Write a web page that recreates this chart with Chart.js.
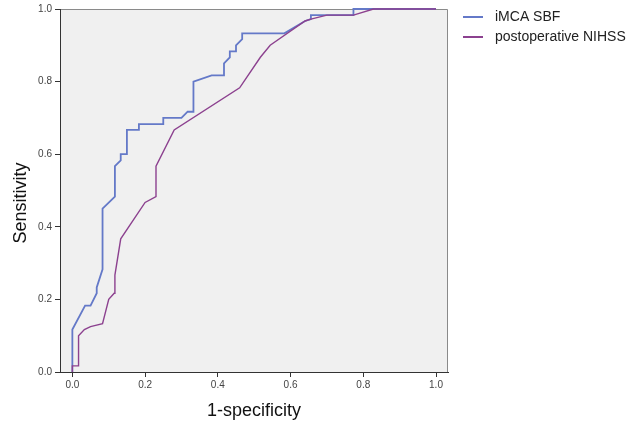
<!DOCTYPE html>
<html>
<head>
<meta charset="utf-8">
<script src="https://cdn.jsdelivr.net/npm/chart.js@4"></script>
<style>
    html, body { margin: 0; padding: 0; background: #fff; }
    #wrap { width: 633px; height: 425px; }
</style>
</head>
<body>
<div id="wrap"><canvas id="roc-chart" width="633" height="425"></canvas></div>
<script>
const seriesNames = ['iMCA SBF', 'postoperative NIHSS'];
const seriesColors = ['#6479c8', '#8c418f'];

// iMCA SBF curve (1-specificity, sensitivity)
const sbfFpr = [0, 0, 0.035, 0.05, 0.067, 0.067, 0.083, 0.083, 0.117, 0.117, 0.133, 0.133, 0.15, 0.15,
    0.183, 0.183, 0.25, 0.25, 0.3, 0.317, 0.333, 0.333, 0.383, 0.417, 0.417, 0.433, 0.433, 0.45, 0.45,
    0.467, 0.467, 0.583, 0.64, 0.656, 0.656, 0.773, 0.773, 1.0];
const sbfTpr = [0, 0.117, 0.183, 0.183, 0.217, 0.233, 0.283, 0.45, 0.483, 0.567, 0.583, 0.6, 0.6, 0.667,
    0.667, 0.683, 0.683, 0.7, 0.7, 0.717, 0.717, 0.8, 0.817, 0.817, 0.85, 0.867, 0.883, 0.883, 0.9,
    0.917, 0.933, 0.933, 0.967, 0.972, 0.983, 0.983, 1.0, 1.0];

// postoperative NIHSS curve
const nihssFpr = [0, 0, 0.017, 0.017, 0.033, 0.05, 0.083, 0.1, 0.115, 0.117, 0.133, 0.2, 0.23, 0.23,
    0.28, 0.46, 0.517, 0.544, 0.64, 0.656, 0.7, 0.773, 0.828, 1.0];
const nihssTpr = [0, 0.017, 0.017, 0.1, 0.117, 0.125, 0.133, 0.2, 0.217, 0.267, 0.367, 0.467, 0.483, 0.567,
    0.667, 0.783, 0.867, 0.9, 0.967, 0.972, 0.983, 0.983, 1.0, 1.0];

const xTicks = [0, 0.2, 0.4, 0.6, 0.8, 1.0];
const yTicks = [0, 0.2, 0.4, 0.6, 0.8, 1.0];

const FONT = '"Liberation Sans", Arial, sans-serif';

function toPoints(xs, ys) {
    return xs.map((x, i) => ({ x: x, y: ys[i] }));
}

// grey plot background with the light top/right frame
const plotFrame = {
    id: 'plotFrame',
    beforeDraw(chart) {
        const { ctx, chartArea: a } = chart;
        ctx.save();
        ctx.fillStyle = '#f0f0f0';
        ctx.fillRect(a.left, a.top, a.right - a.left, a.bottom - a.top);
        ctx.strokeStyle = '#8a8a8a';
        ctx.lineWidth = 1;
        ctx.beginPath();
        ctx.moveTo(a.left, a.top + 0.5);
        ctx.lineTo(a.right - 0.5, a.top + 0.5);
        ctx.lineTo(a.right - 0.5, a.bottom);
        ctx.stroke();
        ctx.restore();
    }
};

// y title sits a little below the plot centre in the original
const yTitle = {
    id: 'yTitle',
    afterDraw(chart) {
        const { ctx } = chart;
        ctx.save();
        ctx.translate(21, 203);
        ctx.rotate(-Math.PI / 2);
        ctx.font = '18px ' + FONT;
        ctx.fillStyle = '#111';
        ctx.textAlign = 'center';
        ctx.textBaseline = 'middle';
        ctx.fillText('Sensitivity', 0, 0);
        ctx.restore();
    }
};

// legend to the right of the plot, SPSS style
const sideLegend = {
    id: 'sideLegend',
    afterDraw(chart) {
        const { ctx, chartArea: a } = chart;
        const x0 = a.right + 15;
        ctx.save();
        ctx.font = '14px ' + FONT;
        ctx.textBaseline = 'middle';
        seriesNames.forEach((name, i) => {
            const y = 17 + i * 20;
            ctx.strokeStyle = seriesColors[i];
            ctx.lineWidth = 2;
            ctx.beginPath();
            ctx.moveTo(x0, y);
            ctx.lineTo(x0 + 20, y);
            ctx.stroke();
            ctx.fillStyle = '#222';
            ctx.fillText(name, x0 + 32, y);
        });
        ctx.restore();
    }
};

function renderChart() {
    const ctx = document.getElementById('roc-chart').getContext('2d');
    const tickFont = { family: FONT, size: 10 };
    const titleFont = { family: FONT, size: 18 };

    new Chart(ctx, {
        type: 'line',
        data: {
            datasets: [
                {
                    label: seriesNames[0],
                    data: toPoints(sbfFpr, sbfTpr),
                    borderColor: seriesColors[0],
                    borderWidth: 1.8,
                    pointRadius: 0,
                    tension: 0,
                    clip: 4,
                    order: 2
                },
                {
                    label: seriesNames[1],
                    data: toPoints(nihssFpr, nihssTpr),
                    borderColor: seriesColors[1],
                    borderWidth: 1.4,
                    pointRadius: 0,
                    tension: 0,
                    clip: 4,
                    order: 1
                }
            ]
        },
        options: {
            responsive: false,
            animation: false,
            devicePixelRatio: 1,
            layout: { padding: { left: 0, right: 185, top: 9, bottom: 0 } },
            plugins: { legend: { display: false }, tooltip: { enabled: false } },
            scales: {
                x: {
                    type: 'linear',
                    min: -0.034,
                    max: 1.033,
                    afterBuildTicks: s => { s.ticks = xTicks.map(v => ({ value: v })); },
                    afterFit: s => { s.height = 53; },
                    grid: { drawOnChartArea: false, tickLength: 5, color: '#333' },
                    border: { color: '#333', width: 1 },
                    ticks: { font: tickFont, color: '#444', padding: 2, autoSkip: false, maxRotation: 0,
                        callback: v => v.toFixed(1) },
                    title: { display: true, text: '1-specificity', font: titleFont, color: '#111',
                        padding: { top: 0, bottom: 3 } }
                },
                y: {
                    type: 'linear',
                    min: 0,
                    max: 1,
                    afterBuildTicks: s => { s.ticks = yTicks.map(v => ({ value: v })); },
                    afterFit: s => { s.width = 60; },
                    grid: { drawOnChartArea: false, tickLength: 5, color: '#333' },
                    border: { color: '#333', width: 1 },
                    ticks: { font: tickFont, color: '#444', padding: 3, autoSkip: false,
                        callback: v => v.toFixed(1) }
                }
            }
        },
        plugins: [plotFrame, yTitle, sideLegend]
    });
}

renderChart();
</script>
</body>
</html>
